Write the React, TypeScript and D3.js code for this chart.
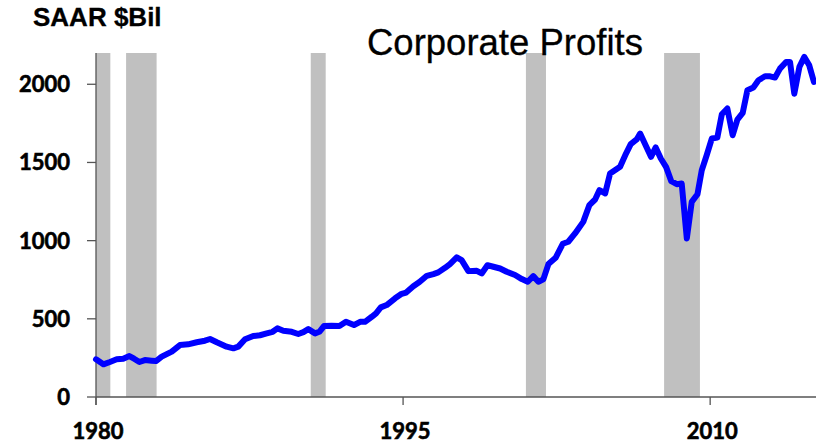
import * as d3 from "d3";
import { useRef, useEffect } from "react";

const WIDTH = 816;
const HEIGHT = 445;
const MARGIN = { top: 53, right: 0, bottom: 48, left: 96 };

// quarterly-ish readings, fractional year
const years = [
  1980.0, 1980.36, 1980.68, 1981.01, 1981.33, 1981.63, 1981.86, 1982.12, 1982.39, 1982.72,
  1982.93, 1983.21, 1983.7, 1984.1, 1984.5, 1984.92, 1985.32, 1985.57, 1985.9, 1986.38,
  1986.71, 1986.95, 1987.28, 1987.68, 1988.01, 1988.34, 1988.63, 1988.86, 1989.15, 1989.56,
  1989.88, 1990.13, 1990.37, 1990.7, 1990.91, 1991.14, 1991.51, 1991.89, 1992.21, 1992.6,
  1992.9, 1993.14, 1993.47, 1993.68, 1993.91, 1994.2, 1994.61, 1994.93, 1995.15, 1995.5,
  1995.8, 1996.16, 1996.48, 1996.72, 1997.05, 1997.29, 1997.62, 1997.86, 1998.19, 1998.6,
  1998.84, 1999.12, 1999.41, 1999.74, 2000.06, 2000.47, 2000.8, 2001.09, 2001.36, 2001.61,
  2001.85, 2002.1, 2002.45, 2002.8, 2003.07, 2003.4, 2003.8, 2004.1, 2004.38, 2004.59,
  2004.87, 2005.11, 2005.6, 2005.89, 2006.12, 2006.41, 2006.58, 2006.87, 2007.11, 2007.34,
  2007.59, 2007.85, 2008.1, 2008.37, 2008.61, 2008.86, 2009.1, 2009.38, 2009.59, 2009.83,
  2010.08, 2010.35, 2010.57, 2010.84, 2011.1, 2011.33, 2011.59, 2011.82, 2012.11, 2012.36,
  2012.68, 2012.93, 2013.17, 2013.41, 2013.71, 2013.9, 2014.11, 2014.36, 2014.6, 2014.84,
  2015.07,
];

const profits = [
  241, 209, 224, 241, 245, 262, 245, 224, 236, 232,
  230, 258, 290, 332, 337, 350, 360, 371, 350, 322,
  311, 322, 369, 390, 395, 407, 417, 439, 424, 417,
  403, 415, 434, 407, 417, 454, 456, 454, 481, 460,
  481, 481, 513, 535, 573, 588, 631, 660, 668, 708,
  735, 775, 786, 797, 826, 850, 893, 875, 805, 807,
  790, 843, 833, 822, 801, 780, 754, 737, 773, 737,
  752, 850, 890, 980, 993, 1046, 1120, 1227, 1263, 1323,
  1302, 1429, 1472, 1557, 1617, 1647, 1685, 1604, 1536, 1596,
  1525, 1470, 1380, 1361, 1365, 1014, 1248, 1297, 1450, 1546,
  1653, 1659, 1808, 1845, 1674, 1774, 1817, 1962, 1979, 2026,
  2051, 2051, 2043, 2100, 2143, 2143, 1940, 2111, 2175, 2121,
  2015,
];

// recession shading
const recessionStart = [1980.0, 1981.47, 1990.49, 2001.0, 2007.75];
const recessionEnd = [1980.7, 1982.96, 1991.22, 2001.98, 2009.5];

const yTicks = [0, 500, 1000, 1500, 2000];
const xTicks = [1980, 1995, 2010];

const TICK_FONT = "Lato, 'DejaVu Sans', sans-serif";

const ProfitsChart = () => {
  const svgRef = useRef(null);

  useEffect(() => {
    const svg = d3.select(svgRef.current);
    svg.selectAll("*").remove();

    const innerHeight = HEIGHT - MARGIN.top - MARGIN.bottom;

    const x = d3.scaleLinear().domain([1980, 2015.17]).range([MARGIN.left, WIDTH - MARGIN.right]);
    const y = d3.scaleLinear().domain([0, 2200]).range([MARGIN.top + innerHeight, MARGIN.top]);

    // Recession bars
    svg
      .append("g")
      .selectAll("rect")
      .data(recessionStart.map((s, i) => [s, recessionEnd[i]]))
      .enter()
      .append("rect")
      .attr("x", (d) => x(d[0]))
      .attr("width", (d) => x(d[1]) - x(d[0]))
      .attr("y", y(2200))
      .attr("height", y(0) - y(2200))
      .attr("fill", "#c0c0c0");

    // Axes
    const axisColor = "#555";
    svg
      .append("line")
      .attr("x1", x(1980))
      .attr("x2", x(1980))
      .attr("y1", y(2200))
      .attr("y2", y(0) + 8)
      .attr("stroke", axisColor)
      .attr("stroke-width", 1.3);
    svg
      .append("line")
      .attr("x1", x(1980))
      .attr("x2", WIDTH)
      .attr("y1", y(0))
      .attr("y2", y(0))
      .attr("stroke", axisColor)
      .attr("stroke-width", 1.3);

    const yg = svg.append("g");
    yTicks.forEach((t) => {
      yg.append("line")
        .attr("x1", x(1980) - 9)
        .attr("x2", x(1980))
        .attr("y1", y(t))
        .attr("y2", y(t))
        .attr("stroke", axisColor)
        .attr("stroke-width", 1.3);
      yg.append("text")
        .attr("x", 70)
        .attr("y", y(t))
        .attr("dy", "0.36em")
        .attr("text-anchor", "end")
        .style("font-family", TICK_FONT)
        .style("font-weight", "bold")
        .style("font-size", "22px")
        .style("stroke", "#000")
        .style("stroke-width", 0.6)
        .text(t);
    });

    const xg = svg.append("g");
    xTicks.forEach((t) => {
      xg.append("line")
        .attr("x1", x(t))
        .attr("x2", x(t))
        .attr("y1", y(0))
        .attr("y2", y(0) + 8)
        .attr("stroke", axisColor)
        .attr("stroke-width", 1.3);
      xg.append("text")
        .attr("x", x(t) + 2)
        .attr("y", 439)
        .attr("text-anchor", "middle")
        .style("font-family", TICK_FONT)
        .style("font-weight", "bold")
        .style("font-size", "22px")
        .style("stroke", "#000")
        .style("stroke-width", 0.6)
        .text(t);
    });

    // Line
    const line = d3
      .line<number>()
      .x((d, i) => x(years[i]))
      .y((d) => y(d));

    svg
      .append("path")
      .datum(profits)
      .attr("d", line)
      .attr("fill", "none")
      .attr("stroke", "#0000ff")
      .attr("stroke-width", 6)
      .attr("stroke-linejoin", "round")
      .attr("stroke-linecap", "round");

    // Titles
    svg
      .append("text")
      .attr("x", 33)
      .attr("y", 26)
      .style("font-family", "'Liberation Sans', Arial, sans-serif")
      .style("font-weight", "bold")
      .style("font-size", "26px")
      .style("stroke", "#000")
      .style("stroke-width", 0.3)
      .text("SAAR $Bil");

    svg
      .append("text")
      .attr("x", 367)
      .attr("y", 55)
      .style("font-family", "'Liberation Sans', Arial, sans-serif")
      .style("font-size", "36.5px")
      .style("stroke", "#000")
      .style("stroke-width", 0.3)
      .text("Corporate Profits");
  }, []);

  return (
    <svg
      ref={svgRef}
      width={WIDTH}
      height={HEIGHT}
      style={{ position: "absolute", left: 0, top: 0, background: "#fff" }}
    />
  );
};

export default function App() {
  return <ProfitsChart />;
}
